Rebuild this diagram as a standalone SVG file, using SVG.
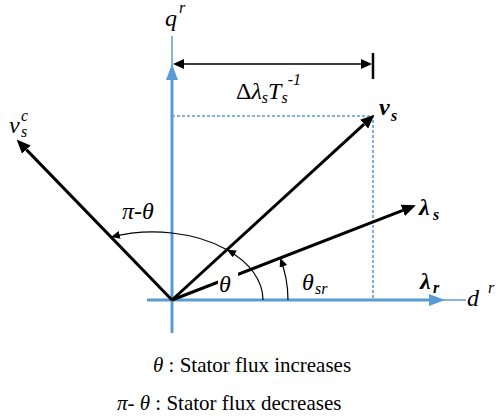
<svg xmlns="http://www.w3.org/2000/svg" width="496" height="418" viewBox="0 0 496 418">
<style>
.lbl{font-family:"Liberation Serif","Times New Roman",serif;font-size:24px;font-style:italic;fill:#000}
.sub{font-size:16px}
.bi{font-weight:bold}
.cap{font-family:"Liberation Serif","Times New Roman",serif;font-size:21px;fill:#000}
.axT{stroke:#5B9BD5;stroke-width:3;fill:none}
.axt{stroke:#5B9BD5;stroke-width:1.5;fill:none}
.dot{stroke:#5B9BD5;stroke-width:1.6;stroke-dasharray:3 2;fill:none}
.vec{stroke:#000;stroke-width:3;fill:none}
.arc{stroke:#000;stroke-width:1.2;fill:none}
</style>
<defs>
<marker id="ab" markerUnits="userSpaceOnUse" markerWidth="16" markerHeight="12" refX="0" refY="6" orient="auto" viewBox="0 0 16 12"><path d="M0,0 L16,6 L0,12 z" fill="#5B9BD5"/></marker>
<marker id="ak" markerUnits="userSpaceOnUse" markerWidth="14" markerHeight="12" refX="0" refY="6" orient="auto" viewBox="0 0 14 12"><path d="M0,0 L14,6 L0,12 z" fill="#000"/></marker>
<marker id="ad" markerUnits="userSpaceOnUse" markerWidth="11" markerHeight="10" refX="0" refY="5" orient="auto-start-reverse" viewBox="0 0 11 10"><path d="M0,0 L11,5 L0,10 z" fill="#000"/></marker>
<marker id="as" markerUnits="userSpaceOnUse" markerWidth="9" markerHeight="8" refX="9" refY="4" orient="auto" viewBox="0 0 9 8"><path d="M0,0 L9,4 L0,8 z" fill="#000"/></marker>
</defs>
<g id="axes">
<line class="axt" x1="172" y1="36" x2="172" y2="333"/>
<line class="axT" x1="172" y1="333" x2="172" y2="80" marker-end="url(#ab)"/>
<line class="axt" x1="147" y1="300" x2="466" y2="300"/>
<line class="axT" x1="147" y1="300" x2="429" y2="300" marker-end="url(#ab)"/>
</g>
<g id="guides">
<polyline class="dot" points="172,116 373,116 373,300"/>
</g>
<g id="connectors">
<line x1="184" y1="64" x2="361" y2="64" stroke="#000" stroke-width="1.5" marker-start="url(#ad)" marker-end="url(#ad)"/>
<line x1="373" y1="53" x2="373" y2="79" stroke="#000" stroke-width="2.5"/>
<line class="vec" x1="172" y1="300" x2="364.15" y2="124.1" marker-end="url(#ak)"/>
<line class="vec" x1="172" y1="300" x2="402.81" y2="210.35" marker-end="url(#ak)"/>
<line class="vec" x1="172" y1="300" x2="26.35" y2="149.62" marker-end="url(#ak)"/>
<path class="arc" d="M263,300 A110,68 0 0 0 227,249.7" marker-end="url(#as)"/>
<path class="arc" d="M227,249.7 A110,68 0 0 0 111,237.1" marker-end="url(#as)"/>
<path class="arc" d="M288,300 A116,116 0 0 0 280.14,258" marker-end="url(#as)"/>
</g>
<g id="label-qr"><text class="lbl" x="165" y="26">q</text><text class="lbl sub" x="179" y="13">r</text></g>
<g id="label-dr"><text class="lbl" x="467" y="306">d</text><text class="lbl sub" x="488" y="293">r</text></g>
<g id="label-delta"><text class="lbl" x="236" y="99"><tspan font-style="normal">Δ</tspan>λ<tspan class="sub" dy="4">s</tspan><tspan dy="-4">T</tspan><tspan class="sub" dy="4">s</tspan><tspan class="sub" dy="-18">-1</tspan></text></g>
<g id="label-vs"><text class="lbl bi" x="379" y="115">v</text><text class="lbl bi sub" x="391" y="121">s</text></g>
<g id="label-vsc"><text class="lbl" x="9" y="133">v</text><text class="lbl sub" x="21" y="121">c</text><text class="lbl sub" x="21" y="137">s</text></g>
<g id="label-ls"><text class="lbl bi" x="419" y="215">λ</text><text class="lbl bi sub" x="433" y="220">s</text></g>
<g id="label-lr"><text class="lbl bi" x="420" y="289">λ</text><text class="lbl bi sub" x="433" y="293">r</text></g>
<g id="label-pitheta"><text class="lbl" x="122" y="219">π-θ</text></g>
<g id="label-theta"><rect x="218" y="266" width="20" height="30" fill="#fff"/><text class="lbl" x="219" y="292">θ</text></g>
<g id="label-thetasr"><text class="lbl" x="302" y="290">θ</text><text class="lbl sub" x="315" y="294">sr</text></g>
<g id="caption">
<text class="cap" x="153" y="372"><tspan font-style="italic">θ</tspan> : Stator flux increases</text>
<text class="cap" x="117" y="410"><tspan font-style="italic">π</tspan>- <tspan font-style="italic">θ</tspan> : Stator flux decreases</text>
</g>
</svg>
